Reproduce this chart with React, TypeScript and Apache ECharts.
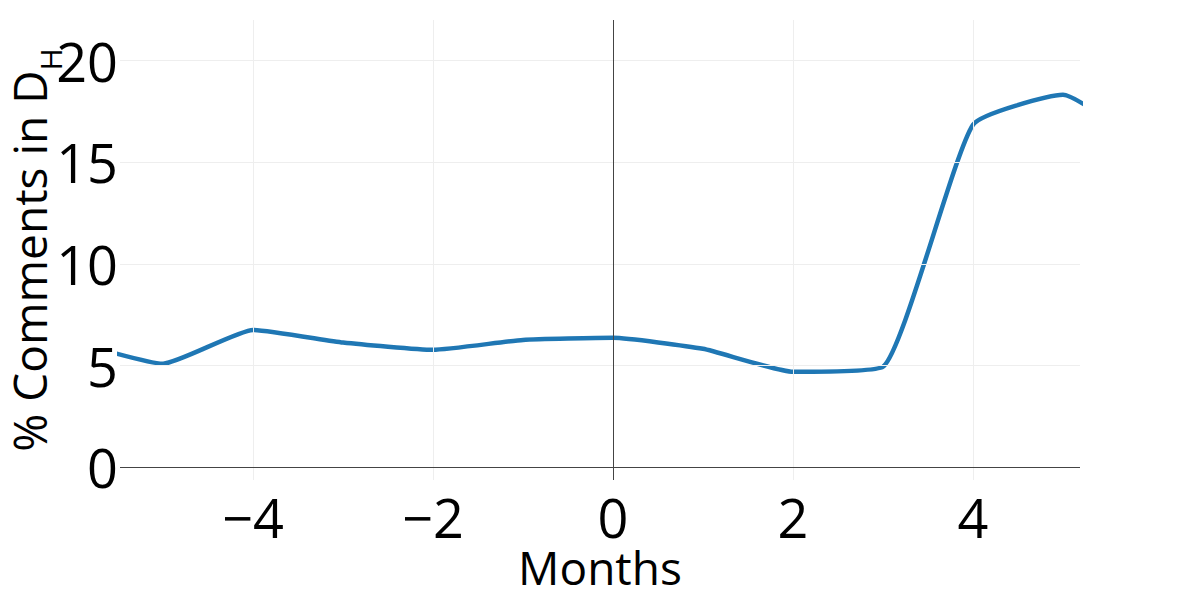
import React, { useEffect, useRef } from "react";
import * as echarts from "echarts";

const months = [-6, -5, -4, -3, -2, -1, 0, 1, 2, 3, 4, 5, 6];
const pctComments = [6.2, 5.1, 6.76, 6.14, 5.78, 6.27, 6.37, 5.83, 4.7, 4.95, 16.85, 18.32, 15.5];
const xTicks = [-4, -2, 0, 2, 4];
const yTicks = [0, 5, 10, 15, 20];
const xRange = [-5.478, 5.189];
const yRange = [-0.62, 22];

export default function App() {
  const ref = useRef<HTMLDivElement>(null);
  useEffect(() => {
    if (!ref.current) return;
    const chart = echarts.init(ref.current, null, { renderer: "svg" });
    const font = "'Open Sans', 'Noto Sans', sans-serif";
    const gridLines = [
      ...xTicks.filter((v) => v !== 0).map((v) => ({ xAxis: v })),
      ...yTicks.filter((v) => v !== 0).map((v) => ({ yAxis: v })),
    ];
    chart.setOption({
      animation: false,
      backgroundColor: "#fff",
      grid: { left: 120, right: 120, top: 20, bottom: 120, containLabel: false, outerBoundsMode: "none" },
      xAxis: {
        type: "value",
        min: xRange[0],
        max: xRange[1],
        name: "Months",
        nameLocation: "middle",
        nameGap: 64,
        nameMoveOverlap: false,
        nameTextStyle: { fontSize: 46, lineHeight: 46, color: "#000", fontFamily: font },
        axisLine: { show: false },
        axisTick: { show: false },
        splitLine: { show: false },
        axisLabel: {
          customValues: xTicks,
          fontSize: 54,
          lineHeight: 50,
          color: "#000",
          fontFamily: font,
          margin: 12,
          formatter: (v: number) => (v < 0 ? "\u2212" + Math.abs(v) : String(v)),
        },
      },
      yAxis: {
        type: "value",
        min: yRange[0],
        max: yRange[1],
        name: "{a|% Comments in D}{s|H}",
        nameLocation: "middle",
        nameRotate: 90,
        nameGap: 63,
        nameMoveOverlap: false,
        nameTextStyle: {
          fontSize: 46,
          color: "#000",
          fontFamily: font,
          rich: {
            a: { fontSize: 46, color: "#000", fontFamily: font, lineHeight: 56 },
            s: { fontSize: 30, color: "#000", fontFamily: font, lineHeight: 56, verticalAlign: "bottom", padding: [0, 0, -8, 0] },
          },
        },
        axisLine: { show: false },
        axisTick: { show: false },
        splitLine: { show: false },
        axisLabel: {
          customValues: yTicks,
          fontSize: 54,
          color: "#000",
          fontFamily: font,
          margin: 2,
        },
      },
      series: [
        {
          type: "line",
          data: [],
          z: 1,
          silent: true,
          markLine: {
            silent: true,
            symbol: "none",
            label: { show: false },
            animation: false,
            lineStyle: { color: "#eeeeee", width: 1, type: "solid" },
            data: gridLines,
          },
        },
        {
          type: "line",
          data: [],
          z: 2,
          silent: true,
          markLine: {
            silent: true,
            symbol: "none",
            label: { show: false },
            animation: false,
            lineStyle: { color: "#444444", width: 1, type: "solid" },
            data: [{ xAxis: 0 }, { yAxis: 0 }],
          },
        },
        {
          type: "line",
          z: 3,
          data: months.map((m, i) => [m, pctComments[i]]),
          smooth: 0.15,
          showSymbol: false,
          symbol: "none",
          lineStyle: { color: "#1f77b4", width: 4.5 },
          itemStyle: { color: "#1f77b4" },
        },
      ],
    });
    return () => chart.dispose();
  }, []);
  return (
    <div
      ref={ref}
      style={{ position: "fixed", left: 0, top: 0, width: 1200, height: 600, background: "#fff" }}
    />
  );
}
